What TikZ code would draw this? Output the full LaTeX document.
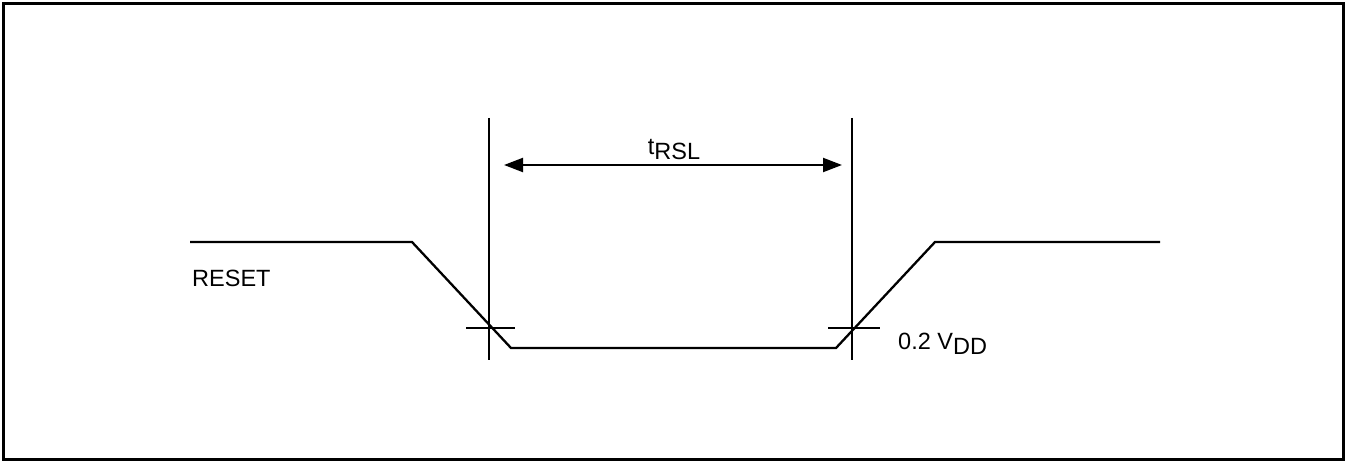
\documentclass[tikz,border=0pt]{standalone}
\usepackage{fontspec}
\setmainfont{Liberation Sans}
\usetikzlibrary{arrows.meta}
\tikzset{
  frame/.style={line width=3pt},
  wave/.style={line width=2.3pt},
  tickline/.style={line width=2.1pt},
  dimline/.style={line width=2.1pt,{Triangle[length=19pt,width=14pt]}-{Triangle[length=19pt,width=14pt]}},
  lbl/.style={font=\fontsize{23.5}{28}\selectfont, inner sep=0pt}
}
\newcommand{\lowsub}[1]{\raisebox{-5pt}{#1}}
\begin{document}
\begin{tikzpicture}[x=1pt,y=-1pt]
\useasboundingbox (0,0) rectangle (1349,462);
\draw[frame] (3,4) rectangle (1343,459);
% waveform coordinates
\coordinate (h0) at (190,242);
\coordinate (h1) at (412,242);
\coordinate (l0) at (511,348);
\coordinate (l1) at (836,348);
\coordinate (h2) at (935,242);
\coordinate (h3) at (1160,242);
\draw[wave] (h0) -- (h1) -- (l0) -- (l1) -- (h2) -- (h3);
% vertical markers
\coordinate (va) at (489,118);
\coordinate (vb) at (489,360);
\coordinate (wa) at (852,118);
\coordinate (wb) at (852,360);
\draw[tickline] (va) -- (vb);
\draw[tickline] (wa) -- (wb);
% crosshair ticks
\coordinate (ta) at (466,328);
\coordinate (tb) at (515,328);
\coordinate (ua) at (828,328);
\coordinate (ub) at (880,328);
\draw[tickline] (ta) -- (tb);
\draw[tickline] (ua) -- (ub);
% dimension arrow
\coordinate (da) at (504,165);
\coordinate (db) at (842,165);
\draw[dimline] (da) -- (db);
\node[lbl, anchor=base] (trsl) at (674,155) {t\lowsub{RSL}};
\node[lbl, anchor=base west] (reset) at (192,287) {RESET};
\node[lbl, anchor=base west] (vdd) at (898,349) {0.2 V\lowsub{DD}};
\end{tikzpicture}
\end{document}
